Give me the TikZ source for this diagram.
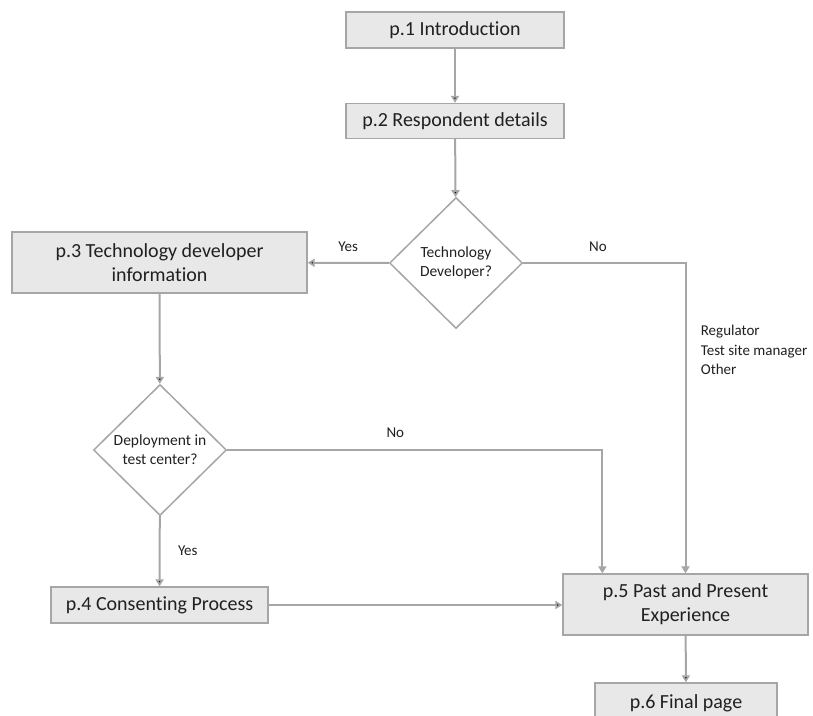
\documentclass[tikz,border=0pt]{standalone}
\usepackage{fontspec}
\setmainfont[Ligatures=NoCommon]{Carlito}
\usetikzlibrary{shapes.geometric, arrows.meta, positioning, calc}
\definecolor{linegray}{HTML}{A6A6A6}
\definecolor{boxgray}{HTML}{E8E8E8}
\definecolor{txtgray}{HTML}{202020}

\begin{document}
\begin{tikzpicture}[x=1pt, y=-1pt,
    box/.style={draw=linegray, fill=boxgray, line width=1.3pt, text=txtgray,
        font=\fontsize{20}{24}\selectfont, align=center, inner sep=0pt},
    decision/.style={diamond, draw=linegray, fill=white, line width=1.5pt, text=txtgray,
        font=\fontsize{15.5}{19}\selectfont, align=center, inner sep=0pt,
        minimum width=133pt, minimum height=131pt},
    flow/.style={draw=linegray, line width=2pt, -{Triangle[width=8pt,length=7pt]}},
    lbl/.style={text=txtgray, font=\fontsize{15}{19.5}\selectfont, align=left}]
    \clip[use as bounding box] (0,0) rectangle (813,715);

    \node[box, minimum width=218pt, minimum height=36pt] (p1) at (455,30) {p.1 Introduction};
    \node[box, minimum width=218pt, minimum height=35pt] (p2) at (455,121) {p.2 Respondent details};
    \node[decision] (dev) at (456,263) {Technology\\Developer?};
    \node[box, minimum width=295pt, minimum height=61pt] (p3) at (159.5,262.5) {p.3 Technology developer\\information};
    \node[decision] (dep) at (160,450) {Deployment in\\test center?};
    \node[box, minimum width=217pt, minimum height=36pt] (p4) at (159.5,605) {p.4 Consenting Process};
    \node[box, minimum width=245pt, minimum height=61pt] (p5) at (685.5,604.5) {p.5 Past and Present\\Experience};
    \node[box, minimum width=182pt, minimum height=40pt] (p6) at (686,703) {p.6 Final page};

    \draw[flow]
        (p1) edge (p2)
        (p2) edge (dev)
        (dev) edge node[lbl, above=7pt] {Yes} (p3)
        (p3) edge (dep)
        (dep) edge node[lbl, right=14pt] {Yes} (p4)
        (p4) edge (p4.east -| p5.west)
        (p5) edge (p6)
        ;
    \draw[flow] (dev.east) -| node[lbl, pos=0.23, above=7pt] {No}
        node[lbl, pos=0.64, right=11pt] {Regulator\\Test site manager\\Other} (p5.north);
    \draw[flow] (dep.east) -| node[lbl, pos=0.224, above=8pt] {No} ([xshift=40pt]p5.north west);
\end{tikzpicture}
\end{document}
